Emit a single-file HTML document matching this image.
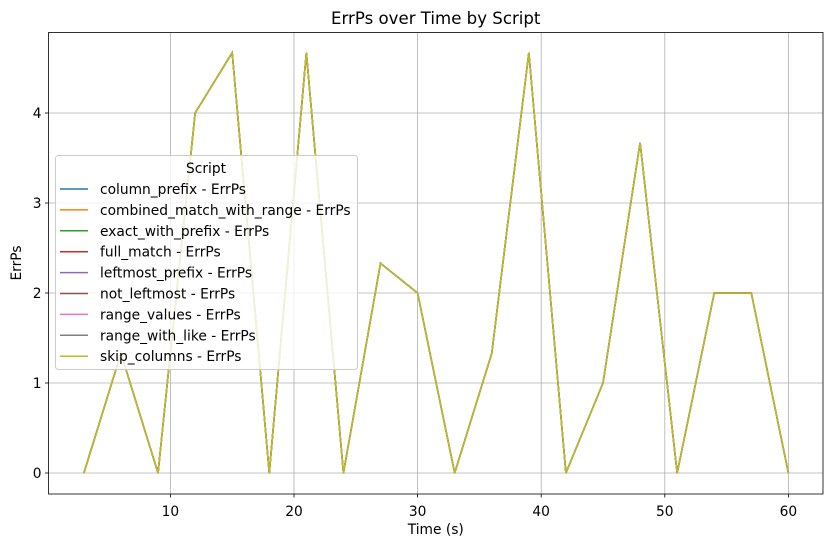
<!DOCTYPE html>
<html><head><meta charset="utf-8"><style>
body{margin:0;background:#fff;font-family:"Liberation Sans","DejaVu Sans",sans-serif}
svg text{font-family:"DejaVu Sans","Liberation Sans",sans-serif;fill:#000}
</style></head><body>
<svg id="c" width="833" height="547"></svg>
<script>
const times=[3,6,9,12,15,18,21,24,27,30,33,36,39,42,45,48,51,54,57,60];
const errps=[0,1.33,0,4,4.67,0,4.67,0,2.33,2,0,1.33,4.67,0,1,3.67,0,2,2,0];
const seriesNames=["column_prefix","combined_match_with_range","exact_with_prefix","full_match","leftmost_prefix","not_leftmost","range_values","range_with_like","skip_columns"];
const seriesColors=["#1f77b4","#ff7f0e","#2ca02c","#d62728","#9467bd","#8c564b","#e377c2","#7f7f7f","#bcbd22"];
const xTicks=[10,20,30,40,50,60];
const yTicks=[0,1,2,3,4];
const L=48.5,R=823,T=32.5,B=494;
const FS=13.8;
const sx=v=>46.8+v*12.36;
const sy=v=>473-v*90;
const NS="http://www.w3.org/2000/svg";
const svg=document.getElementById('c');
function mk(t,a,p){const e=document.createElementNS(NS,t);for(const k in a)e.setAttribute(k,a[k]);(p||svg).appendChild(e);return e;}
let g=mk('g',{});


xTicks.forEach(v=>{mk('line',{x1:sx(v),x2:sx(v),y1:T,y2:B,stroke:'#b0b0b0','stroke-width':0.8},g);
 mk('line',{x1:sx(v),x2:sx(v),y1:B,y2:B+3.5,stroke:'#000','stroke-width':0.8});
 const t=mk('text',{x:sx(v),y:B+22,'text-anchor':'middle','font-size':FS});t.textContent=v;
 
 });
yTicks.forEach(v=>{mk('line',{x1:L,x2:R,y1:sy(v),y2:sy(v),stroke:'#b0b0b0','stroke-width':0.8},g);
 mk('line',{x1:L-3.5,x2:L,y1:sy(v),y2:sy(v),stroke:'#000','stroke-width':0.8});
 const t=mk('text',{x:L-7,y:sy(v)+5,'text-anchor':'end','font-size':FS});t.textContent=v;
 
 });
const pts=times.map((t,i)=>sx(t)+','+sy(errps[i])).join(' ');
seriesNames.forEach((n,i)=>{const p=mk('polyline',{points:pts,fill:'none',stroke:seriesColors[i],'stroke-width':1.5});
 
 });
const fr=mk('rect',{x:L,y:T,width:R-L,height:B-T,fill:'none',stroke:'#000','stroke-width':0.8});


let t=mk('text',{x:(L+R)/2,y:24,'text-anchor':'middle','font-size':16.6});t.textContent='ErrPs over Time by Script';


t=mk('text',{x:(L+R)/2,y:534,'text-anchor':'middle','font-size':FS});t.textContent='Time (s)';


t=mk('text',{x:0,y:0,'text-anchor':'middle','font-size':FS,transform:'translate(21,263) rotate(-90)'});t.textContent='ErrPs';


const lg=mk('g',{});


mk('rect',{x:55.5,y:155.5,width:302,height:214,rx:3,fill:'#fff','fill-opacity':0.8,stroke:'#ccc'},lg);
t=mk('text',{x:206,y:173,'text-anchor':'middle','font-size':FS},lg);t.textContent='Script';
seriesNames.forEach((n,i)=>{const y=189+i*20.9;
 const e=mk('g',{},lg);
 
 
 mk('line',{x1:60,x2:88,y1:y,y2:y,stroke:seriesColors[i],'stroke-width':1.5},e);
 const tt=mk('text',{x:100,y:y+5,'font-size':FS},e);tt.textContent=n+' - ErrPs';});
</script>
</body></html>
